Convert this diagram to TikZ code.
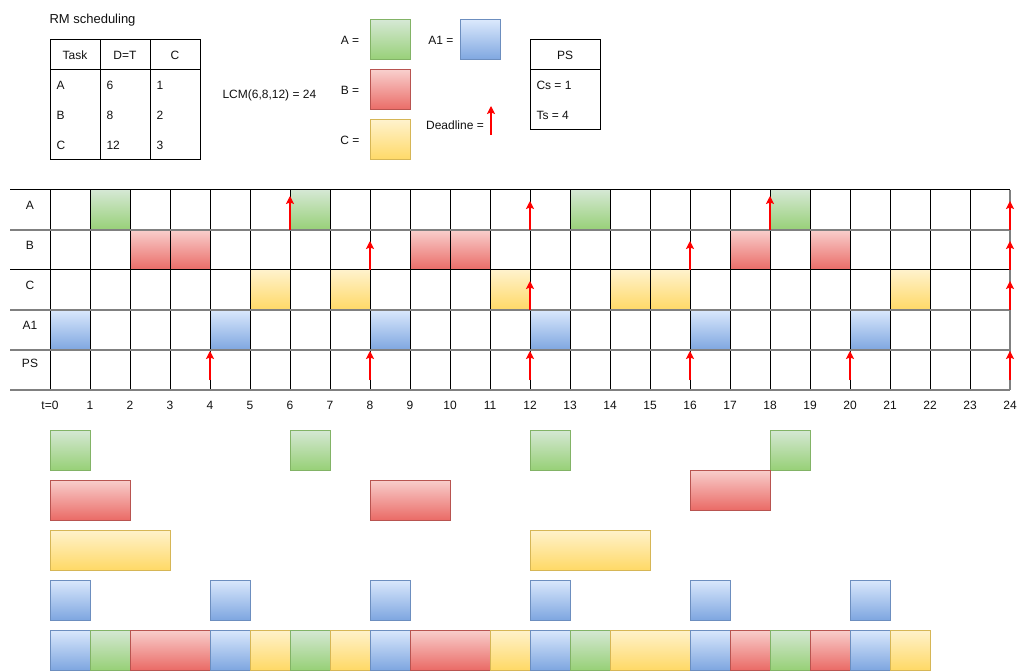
\documentclass[tikz,border=0pt]{standalone}
\usepackage{fontspec}
\setmainfont{Liberation Sans}
\usetikzlibrary{arrows.meta}
\definecolor{gtop}{HTML}{D5E8D4}\definecolor{gbot}{HTML}{97D077}\definecolor{gst}{HTML}{82B366}
\definecolor{rtop}{HTML}{F8CECC}\definecolor{rbot}{HTML}{EA6B66}\definecolor{rst}{HTML}{B85450}
\definecolor{ytop}{HTML}{FFF2CC}\definecolor{ybot}{HTML}{FFD966}\definecolor{yst}{HTML}{D6B656}
\definecolor{btop}{HTML}{DAE8FC}\definecolor{bbot}{HTML}{7EA6E0}\definecolor{bst}{HTML}{6C8EBF}
\definecolor{hgray}{HTML}{808080}
\definecolor{txtc}{HTML}{111111}
\definecolor{dlred}{HTML}{FF0000}
\begin{document}
\begin{tikzpicture}[x=1pt,y=-1pt,line width=1pt,
  txt/.style={inner sep=0pt,text=txtc,font=\fontsize{12}{14}\selectfont},
  cell/.style={top color=#1top,bottom color=#1bot},
  box/.style={cell=#1,draw=#1st},
  dl/.style={color=dlred,line width=1.3pt,-{Stealth[length=8pt,width=8pt,inset=1.5pt]}},
  gridv/.style={draw=black,line width=1pt},
  gridh/.style={draw=hgray,line width=1.6pt},
  tline/.style={draw=black,line width=1pt}]
\useasboundingbox (0,0) rectangle (1021,671);

% ---------- title and task table ----------
\node[txt,anchor=west,font=\fontsize{13}{15}\selectfont] (title) at (49,20) {RM scheduling};
\draw[tline] (50,40) rectangle (200,160);
\draw[tline] (50,70) -- (200,70);
\draw[tline] (100,40) -- (100,160);
\draw[tline] (150,40) -- (150,160);
\node[txt] (hTask) at (75,55) {Task};
\node[txt] (hDT) at (125,55) {D=T};
\node[txt] (hC) at (175,55) {C};
\node[txt,anchor=west] (tA) at (56,85) {A};
\node[txt,anchor=west] (tA6) at (106,85) {6};
\node[txt,anchor=west] (tA1) at (156,85) {1};
\node[txt,anchor=west] (tB) at (56,115) {B};
\node[txt,anchor=west] (tB8) at (106,115) {8};
\node[txt,anchor=west] (tB2) at (156,115) {2};
\node[txt,anchor=west] (tC) at (56,145) {C};
\node[txt,anchor=west] (tC12) at (106,145) {12};
\node[txt,anchor=west] (tC3) at (156,145) {3};

\node[txt,anchor=west] (lcm) at (222,95) {LCM(6,8,12) = 24};

% ---------- legend ----------
\node[txt] (lgA) at (350,40) {A =};
\draw[box=g] (370,20) rectangle (410,60);
\node[txt] (lgB) at (350,90) {B =};
\draw[box=r] (370,70) rectangle (410,110);
\node[txt] (lgC) at (350,140) {C =};
\draw[box=y] (370,120) rectangle (410,160);
\node[txt] (lgA1) at (441,40) {A1 =};
\draw[box=b] (460,20) rectangle (500,60);
\node[txt] (lgD) at (455,125) {Deadline =};
\coordinate (dlb) at (491,135);
\coordinate (dlt) at (491,106);
\draw[dl] (dlb) -- (dlt);

% ---------- PS box ----------
\draw[tline] (530,40) rectangle (600,130);
\draw[tline] (530,70) -- (600,70);
\node[txt] (psh) at (565,55) {PS};
\node[txt,anchor=west] (cs) at (536,85) {Cs = 1};
\node[txt,anchor=west] (ts) at (536,115) {Ts = 4};

% ---------- chart cells ----------
\foreach \t/\w in {1/1,6/1,13/1,18/1} \fill[cell=g] ({50+40*\t},190) rectangle ++({40*\w},40);
\foreach \t/\w in {2/2,9/2,17/1,19/1} \fill[cell=r] ({50+40*\t},230) rectangle ++({40*\w},40);
\foreach \t/\w in {5/1,7/1,11/1,14/2,21/1} \fill[cell=y] ({50+40*\t},270) rectangle ++({40*\w},40);
\foreach \t/\w in {0/1,4/1,8/1,12/1,16/1,20/1} \fill[cell=b] ({50+40*\t},310) rectangle ++({40*\w},40);

% ---------- grid ----------
\foreach \t in {0,...,23} \draw[gridv] ({50+40*\t},190) -- ({50+40*\t},390);
\draw[gridh] (1010,190) -- (1010,390);
\draw[gridv] (10,190) -- (1010,190);
\draw[gridv] (10,270) -- (1010,270);
\foreach \y in {230,310,350,390} \draw[gridh] (10,\y) -- (1010,\y);

% row labels
\node[txt] (rA) at (30,205) {A};
\node[txt] (rB) at (30,245) {B};
\node[txt] (rC) at (30,285) {C};
\node[txt] (rA1) at (30,325) {A1};
\node[txt] (rPS) at (30,363) {PS};

% time labels
\node[txt] (tk0) at (50,405) {t=0};
\foreach \t in {1,...,24} \node[txt] (tk\t) at ({50+40*\t},405) {\t};

% ---------- deadlines ----------
\foreach \t/\l in {6/34,12/29,18/34,24/29} \draw[dl] ({50+40*\t},230) -- ++(0,-\l);
\foreach \t in {8,16,24} \draw[dl] ({50+40*\t},270) -- ++(0,-29);
\foreach \t in {12,24} \draw[dl] ({50+40*\t},310) -- ++(0,-29);
\foreach \t in {4,8,12,16,20,24} \draw[dl] ({50+40*\t},380) -- ++(0,-29);

% ---------- separate job boxes ----------
\foreach \t in {0,6,12,18} \draw[box=g] ({50+40*\t},430) rectangle ++(40,40);
\draw[box=r] (50,480) rectangle ++(80,40);
\draw[box=r] (370,480) rectangle ++(80,40);
\draw[box=r] (690,470) rectangle ++(80,40);
\draw[box=y] (50,530) rectangle ++(120,40);
\draw[box=y] (530,530) rectangle ++(120,40);
\foreach \t in {0,4,8,12,16,20} \draw[box=b] ({50+40*\t},580) rectangle ++(40,40);

% ---------- combined schedule ----------
\foreach \t/\w/\c in {0/1/b,1/1/g,2/2/r,4/1/b,5/1/y,6/1/g,7/1/y,8/1/b,9/2/r,11/1/y,12/1/b,13/1/g,14/2/y,16/1/b,17/1/r,18/1/g,19/1/r,20/1/b,21/1/y}
  \draw[box=\c] ({50+40*\t},630) rectangle ++({40*\w},40);
\end{tikzpicture}
\end{document}
